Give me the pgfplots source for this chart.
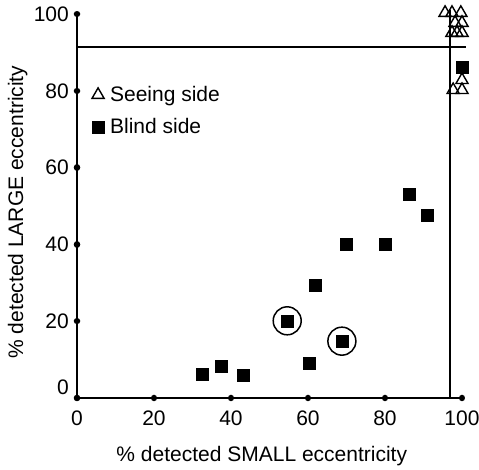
\documentclass[border=0pt]{standalone}
\usepackage{fontspec}
\setmainfont{Liberation Sans}
\usepackage{pgfplots}
\pgfplotsset{compat=1.18}
\begin{document}
\fontsize{21}{25}\selectfont
\begin{tikzpicture}
\useasboundingbox (-77pt,-72pt) rectangle (402pt,398pt);
\begin{axis}[
  anchor=origin, at={(0,0)},
  scale only axis, width=385pt, height=384pt,
  xmin=0,xmax=100,ymin=0,ymax=100,
  clip=false,
  axis x line*=bottom, axis y line*=left,
  axis line style={line width=1.5pt, -},
  xtick={0,20,...,100}, ytick={20,40,...,100},
  extra y ticks={0}, extra y tick style={yticklabel style={yshift=11pt}},
  major tick length=0.01pt,
  tick style={line width=6.5pt, line cap=round, black},
  /pgf/number format/assume math mode=true,
  ticklabel style={font=\fontsize{21}{25}\selectfont},
  xticklabel style={anchor=center, inner sep=0pt, yshift=-20pt},
  yticklabel style={anchor=east, inner sep=0pt, xshift=-8pt},
  xlabel={\% detected SMALL eccentricity},
  ylabel={\% detected LARGE eccentricity},
  label style={font=\fontsize{21}{25}\selectfont},
  xlabel style={at={(axis description cs:0.48,-0.151)}, anchor=center},
  ylabel style={at={(axis description cs:-0.154,0.484)}, anchor=center},
  legend cell align=left,
  legend style={draw=none, fill=none, inner sep=0pt, outer sep=0pt,
    at={(axis cs:3.9,83.1)}, anchor=north west, row sep=0pt,
    font=\fontsize{21}{25}\selectfont,
    nodes={inner sep=6pt, text height=17pt, text depth=3pt}},
]
\addplot[only marks, mark=triangle, mark size=7pt, mark options={line width=1.4pt, fill=white}]
  coordinates {(95.6,100.3)(97.4,100.3)(99.7,100.3)(98.2,97.7)(100,97.7)(97.4,95.1)(98.7,95.1)(100,95.1)(100,82.8)(97.7,80.2)(100,80.2)};
\addlegendentry{Seeing side}
\addplot[only marks, mark=square*, mark size=6pt, mark options={black}]
  coordinates {(32.4,6.3)(37.5,8.3)(43.1,6.0)(54.6,20.1)(60.3,9.0)(68.8,14.8)(61.8,29.4)(69.8,40.1)(80.1,40.1)(86.2,53.1)(91.0,47.7)(100,86.1)};
\addlegendentry{Blind side}
\addplot[only marks, mark=o, mark size=14pt, mark options={line width=1.5pt}, forget plot]
  coordinates {(54.6,20.1)(68.8,14.8)};
\addplot[line width=1.5pt, forget plot] coordinates {(0,91.4)(101,91.4)};
\addplot[line width=1.5pt, forget plot] coordinates {(96.9,0)(96.9,101)};
\end{axis}
\end{tikzpicture}
\end{document}
